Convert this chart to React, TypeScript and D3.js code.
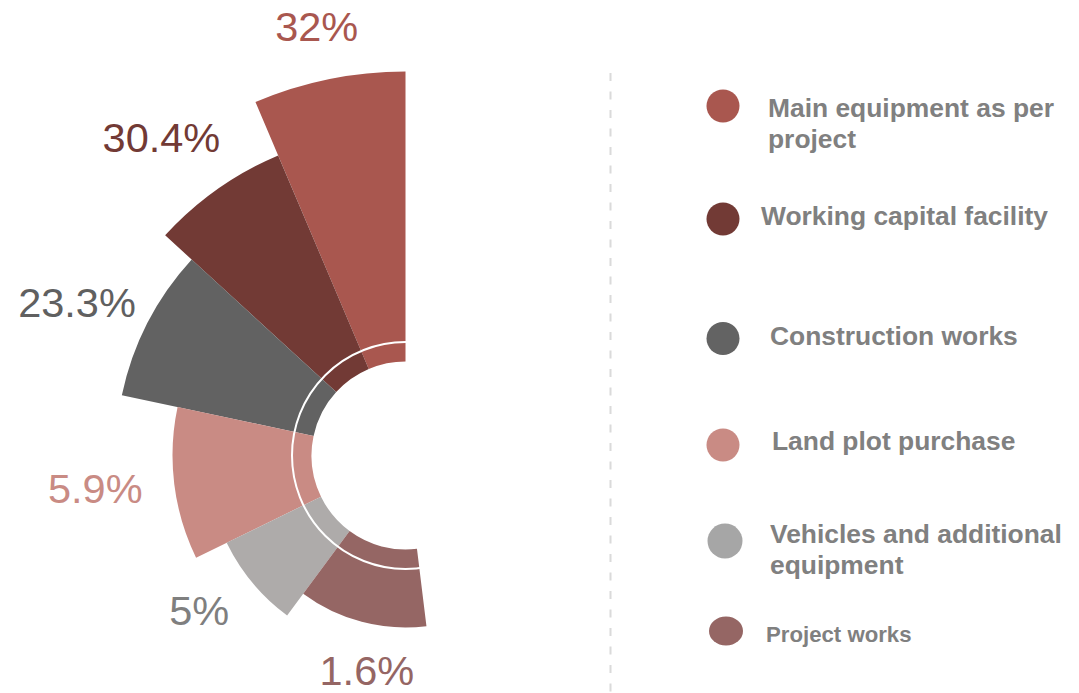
import React from "react";
import * as d3 from "d3";

// ---- data ----
const categories = [
  "Main equipment as per project",
  "Working capital facility",
  "Construction works",
  "Land plot purchase",
  "Vehicles and additional equipment",
  "Project works",
];
const values = [32, 30.4, 23.3, 5.9, 5, 1.6];
const valueLabels = ["32%", "30.4%", "23.3%", "5.9%", "5%", "1.6%"];
const legendLines = [
  ["Main equipment as per", "project"],
  ["Working capital facility"],
  ["Construction works"],
  ["Land plot purchase"],
  ["Vehicles and additional", "equipment"],
  ["Project works"],
];

// ---- styles / layout ----
const sliceColors = ["#A9574F", "#723A35", "#626262", "#C98B84", "#AEABAA", "#956664"];
const dotColors = ["#A9574F", "#723A35", "#636363", "#C98B84", "#A6A6A6", "#956664"];
const labelColors = ["#A9574F", "#723A35", "#606060", "#C98B84", "#7F7F7F", "#956664"];

const W = 1079;
const H = 693;
const CX = 405.5;
const CY = 455.5;
const INNER = 94;
const RING = 113.5;
// angular boundaries (degrees, counter-clockwise from 12 o'clock)
const angleStops = [0, 23, 47.5, 78, 116, 143.5, 187];
// radial scale stops (value -> outer radius)
const radiusStops = [172, 199, 233, 290, 326, 384];
// label nudges: [degrees off mid-angle, px beyond outer radius]
const labelNudge = [
  [0.2, 54],
  [2.25, 75],
  [2.25, 72.5],
  [-0.9, 79],
  [-2.85, 59],
  [4.55, 46.5],
];
const legendDotX = [723, 723, 723, 723, 725, 726];
const legendDotY = [106, 219, 338.5, 445, 541, 631];
const legendDotR = [[16.5, 16.5], [16.5, 16.5], [16.5, 16.5], [16.5, 16.5], [17.5, 17.5], [17, 14.5]];
const legendTextX = [768, 761, 770, 772, 770, 766];
const legendBaseline = [116.7, 225, 345, 450, 543.3, 641.7];
const legendFont = [26.4, 26.4, 26.4, 26.4, 26.4, 22.2];

export default function App() {
  const n = values.length;
  const angle = d3
    .scaleLinear()
    .domain(d3.range(n + 1))
    .range(angleStops.map((a) => (a * Math.PI) / 180));
  const sorted = [...values].sort((a, b) => a - b);
  const radius = d3.scaleLinear().domain(sorted).range(radiusStops);

  const arc = d3.arc<any>();
  const font = "'Liberation Sans', Arial, Helvetica, sans-serif";

  return (
    <svg
      width={W}
      height={H}
      style={{ position: "absolute", left: 0, top: 0, display: "block", background: "#fff" }}
    >
      <g transform={`translate(${CX},${CY})`}>
        {values.map((v, i) => {
          const d = arc({
            innerRadius: INNER,
            outerRadius: radius(v),
            startAngle: -angle(i),
            endAngle: -angle(i + 1),
          });
          return <path key={categories[i]} d={d || ""} fill={sliceColors[i]} />;
        })}
        <circle r={RING} fill="none" stroke="#ffffff" strokeWidth={2} />
        {values.map((v, i) => {
          const mid = (angle(i) + angle(i + 1)) / 2 + (labelNudge[i][0] * Math.PI) / 180;
          const r = radius(v) + labelNudge[i][1];
          const x = -r * Math.sin(mid);
          const y = -r * Math.cos(mid);
          return (
            <text
              key={"l" + i}
              x={x}
              y={y}
              dy="0.355em"
              textAnchor="middle"
              fontFamily={font}
              fontSize={41.5}
              fill={labelColors[i]}
            >
              {valueLabels[i]}
            </text>
          );
        })}
      </g>
      <line
        x1={610.5}
        x2={610.5}
        y1={73}
        y2={H}
        stroke="#DADADA"
        strokeWidth={2}
        strokeDasharray="8 10.5"
      />
      {categories.map((c, i) => (
        <g key={"lg" + i}>
          <ellipse
            cx={legendDotX[i]}
            cy={legendDotY[i]}
            rx={legendDotR[i][0]}
            ry={legendDotR[i][1]}
            fill={dotColors[i]}
          />
          <text
            x={legendTextX[i]}
            y={legendBaseline[i]}
            fontFamily={font}
            fontWeight="bold"
            fontSize={legendFont[i]}
            fill="#808080"
          >
            {legendLines[i].map((line, j) => (
              <tspan key={j} x={legendTextX[i]} dy={j === 0 ? 0 : 31}>
                {line}
              </tspan>
            ))}
          </text>
        </g>
      ))}
    </svg>
  );
}
